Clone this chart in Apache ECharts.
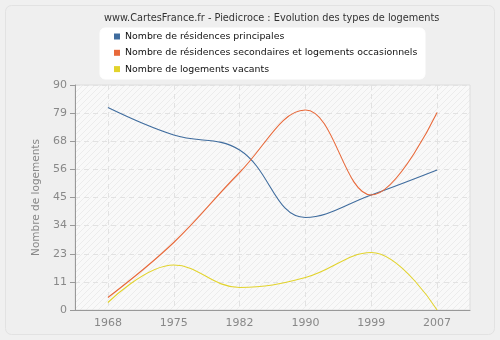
<!DOCTYPE html>
<html>
<head>
<meta charset="utf-8">
<script src="https://cdn.jsdelivr.net/npm/echarts@6/dist/echarts.min.js"></script>
<style>
  html, body { margin: 0; padding: 0; background: #f0f0f0; }
  #chart { width: 500px; height: 340px; }
</style>
</head>
<body>
<div id="chart"></div>
<script>
// Census years and housing counts for Piedicroce
const years = ['1968', '1975', '1982', '1990', '1999', '2007'];
const principales = [81, 70, 64, 37, 46, 56];
const secondaires = [5, 27, 55, 80, 46, 79];
const vacants = [3, 18, 9, 13, 23, 0];

const seriesNames = [
  'Nombre de résidences principales',
  'Nombre de résidences secondaires et logements occasionnels',
  'Nombre de logements vacants'
];
const seriesColors = ['#3f6c9e', '#e8693a', '#e2d32c'];

// Light diagonal hatching for the plot background
function hatchPattern() {
  const c = document.createElement('canvas');
  c.width = 6; c.height = 6;
  const g = c.getContext('2d');
  g.fillStyle = '#f9f9f9';
  g.fillRect(0, 0, 6, 6);
  g.strokeStyle = '#ececec';
  g.lineWidth = 1;
  g.beginPath();
  g.moveTo(0, 6); g.lineTo(6, 0);
  g.moveTo(-1, 1); g.lineTo(1, -1);
  g.moveTo(5, 7); g.lineTo(7, 5);
  g.stroke();
  return c;
}

const chart = echarts.init(document.getElementById('chart'), null, { renderer: 'canvas' });

const allSeries = [principales, secondaires, vacants].map((d, i) => ({
  name: seriesNames[i],
  type: 'line',
  data: d,
  smooth: 0.4,
  symbol: 'none',
  lineStyle: { color: seriesColors[i], width: 1.1 },
  itemStyle: { color: seriesColors[i] },
  z: 3
}));

chart.setOption({
  backgroundColor: '#f0f0f0',
  animation: false,
  graphic: [{
    type: 'rect',
    shape: { x: 5.5, y: 5.5, width: 489, height: 329, r: 6 },
    style: { fill: '#efefef', stroke: '#e2e2e2', lineWidth: 1 },
    z: -10,
    silent: true
  }, {
    type: 'rect',
    shape: { x: 100, y: 28, width: 325, height: 51, r: 5 },
    style: { fill: '#ffffff', stroke: '#ffffff' },
    z: -5,
    silent: true
  }],
  title: {
    text: 'www.CartesFrance.fr - Piedicroce : Evolution des types de logements',
    left: 99,
    top: 8,
    textStyle: { fontFamily: 'DejaVu Sans', fontSize: 9.75, fontWeight: 'normal', color: '#333' }
  },
  legend: {
    orient: 'vertical',
    left: 109,
    top: 27,
    itemWidth: 6,
    itemHeight: 6,
    itemGap: 7.3,
    icon: 'rect',
    data: seriesNames,
    textStyle: { fontFamily: 'DejaVu Sans', fontSize: 9.4, color: '#111', padding: [0, 0, 0, 0] }
  },
  grid: {
    left: 75, right: 30, top: 85, bottom: 30,
    show: true,
    backgroundColor: { image: hatchPattern(), repeat: 'repeat' },
    borderColor: '#dddddd',
    borderWidth: 1
  },
  xAxis: {
    type: 'category',
    data: years,
    boundaryGap: true,
    axisLine: { lineStyle: { color: '#999', width: 1 } },
    axisTick: { alignWithLabel: true, length: 5, lineStyle: { color: '#999' } },
    axisLabel: { fontFamily: 'DejaVu Sans', fontSize: 11, color: '#888', margin: 8 },
    splitLine: { show: true, alignWithLabel: true, lineStyle: { color: '#e2e2e2', type: [5, 4] } }
  },
  yAxis: {
    type: 'value',
    min: 0,
    max: 90,
    interval: 11.25,
    name: 'Nombre de logements',
    nameLocation: 'middle',
    nameGap: 21,
    nameTextStyle: { fontFamily: 'DejaVu Sans', fontSize: 10.5, color: '#888' },
    axisLine: { show: true, lineStyle: { color: '#999', width: 1 } },
    axisTick: { show: true, length: 5, lineStyle: { color: '#999' } },
    axisLabel: {
      fontFamily: 'DejaVu Sans', fontSize: 11, color: '#888', margin: 8,
      formatter: v => String(Math.round(v))
    },
    splitLine: { show: true, lineStyle: { color: '#e2e2e2', type: [5, 4] } }
  },
  series: allSeries
});
</script>
</body>
</html>
